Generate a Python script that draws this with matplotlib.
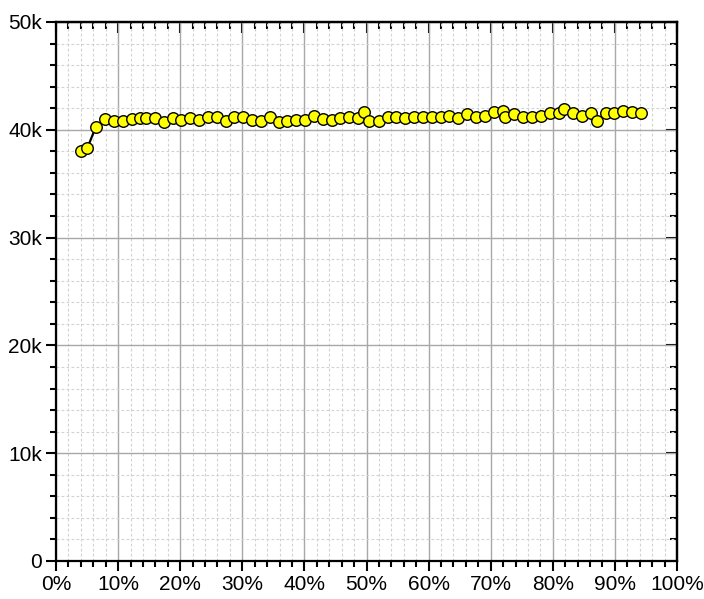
import matplotlib
matplotlib.use("Agg")
import matplotlib.pyplot as plt
from matplotlib.ticker import MultipleLocator, FuncFormatter

plt.rcParams['font.family'] = ['Liberation Sans', 'DejaVu Sans']

x_pct = [4.03, 5.04, 6.44, 7.89, 9.34, 10.74, 12.19, 13.53, 14.54, 15.99,
         17.39, 18.79, 20.18, 21.63, 23.03, 24.48, 25.93, 27.33, 28.71, 30.16,
         31.56, 32.96, 34.41, 35.86, 37.25, 38.70, 40.14, 41.55, 42.95, 44.40,
         45.78, 47.23, 48.68, 49.60, 50.45, 51.96, 53.41, 54.80, 56.25, 57.65,
         59.10, 60.50, 61.95, 63.33, 64.78, 66.18, 67.63, 69.08, 70.48, 71.93,
         72.35, 73.75, 75.20, 76.65, 78.05, 79.50, 80.95, 81.80, 83.20, 84.65,
         86.10, 87.06, 88.52, 89.90, 91.35, 92.75, 94.20]
values = [38000, 38300, 40300, 41000, 40830, 40830, 41000, 41140, 41050, 41050,
          40740, 41050, 40950, 41050, 40920, 41170, 41170, 40860, 41170, 41170,
          40950, 40860, 41170, 40740, 40860, 40950, 40950, 41290, 40980, 40950,
          41050, 41170, 41080, 41630, 40860, 40830, 41170, 41170, 41050, 41170,
          41170, 41170, 41170, 41290, 41050, 41420, 41170, 41290, 41630, 41750,
          41230, 41420, 41170, 41170, 41290, 41540, 41540, 41910, 41540, 41290,
          41540, 40830, 41540, 41540, 41750, 41630, 41540]

fig = plt.figure(figsize=(7.04, 5.99), dpi=100)
ax = fig.add_axes([56/704, 1-561/599, (677-56)/704, (561-22)/599])

ax.plot(x_pct, values, color='black', lw=1.6, marker='o', markersize=8.3,
        markerfacecolor='#FFFF00', markeredgecolor='black', markeredgewidth=1.0,
        zorder=3)

ax.set_xlim(0, 100)
ax.set_ylim(0, 50000)
ax.xaxis.set_major_locator(MultipleLocator(10))
ax.xaxis.set_minor_locator(MultipleLocator(2))
ax.yaxis.set_major_locator(MultipleLocator(10000))
ax.yaxis.set_minor_locator(MultipleLocator(2000))
ax.xaxis.set_major_formatter(FuncFormatter(lambda v, p: f"{int(round(v))}%"))
ax.yaxis.set_major_formatter(FuncFormatter(lambda v, p: "0" if v == 0 else f"{int(round(v/1000))}k"))

ax.grid(which='major', color='#a8a8a8', lw=1.0, ls='-', zorder=0)
ax.grid(which='minor', color='#d2d2d2', lw=0.8, ls=(0, (2.5, 2)), zorder=0)
ax.set_axisbelow(True)

for s in ax.spines.values():
    s.set_linewidth(1.6)
    s.set_color('black')

ax.tick_params(which='major', direction='out', length=7, width=1.5,
               labelsize=15, pad=3, colors='black')
ax.tick_params(which='minor', direction='out', length=4, width=1.5)

topax = ax.secondary_xaxis('top')
topax.xaxis.set_major_locator(MultipleLocator(10))
topax.xaxis.set_minor_locator(MultipleLocator(2))
topax.tick_params(which='major', direction='in', length=8, width=1.5, labeltop=False)
topax.tick_params(which='minor', direction='in', length=5, width=1.5)
topax.spines['top'].set_linewidth(1.6)

rax = ax.secondary_yaxis('right')
rax.yaxis.set_major_locator(MultipleLocator(10000))
rax.yaxis.set_minor_locator(MultipleLocator(2000))
rax.tick_params(which='major', direction='in', length=8, width=1.5, labelright=False)
rax.tick_params(which='minor', direction='in', length=5, width=1.5)
rax.spines['right'].set_linewidth(1.6)

fig.savefig('out.png', dpi=100)
